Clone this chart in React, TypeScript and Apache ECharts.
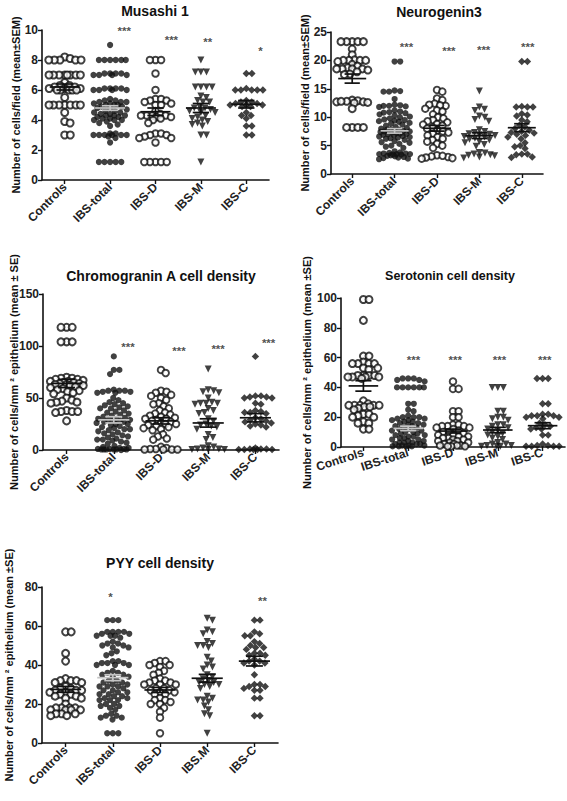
import React, { useEffect, useRef } from "react";
import * as echarts from "echarts";

const FONT = "'Liberation Sans', Arial, sans-serif";

const categories = ["Controls", "IBS-total", "IBS-D", "IBS-M", "IBS-C"];
const categoriesPYY = ["Controls", "IBS-total", "IBS-D", "IBS.M", "IBS-C"];

// ---------- Musashi 1 ----------
const musashiControls = [8.2, 8.1, 8, 8, 8, 8, 8, 7, 7, 7, 7, 7, 7, 7, 7, 6.5, 6.3, 6.3, 6.2, 6.2, 6.1, 6.1, 6.1, 6, 6, 6, 6, 6, 5.5, 5, 5, 5, 5, 5, 5, 5, 4.5, 3.9, 3.8, 3, 3];
const musashiTotal = [9, 8, 8, 8, 8, 8, 8, 7.1, 7.1, 7, 7, 7, 7, 7.1, 7.1, 6.1, 6.1, 6, 6, 6, 6, 6.1, 6.1, 5.4, 5.3, 5.3, 5.2, 5.2, 5.2, 5.1, 5.1, 5, 5, 5, 4.9, 4.9, 4.8, 4.8, 4.7, 4.6, 4.6, 4.5, 4.5, 4.4, 4.4, 4.3, 4.3, 4.3, 4.2, 4.2, 4.1, 4.1, 4, 4, 4, 3.9, 3.8, 3.7, 3.6, 3.1, 3.1, 3, 3, 3, 3, 3, 3, 2.9, 2.8, 2.5, 1.2, 1.2, 1.2, 1.2, 1.2];
const musashiD = [8, 8, 8, 7.1, 6, 5.4, 5.4, 5.3, 5.3, 5.2, 5.1, 5, 5, 4.6, 4.4, 4.3, 4.3, 4.3, 4.3, 4.2, 4.2, 4.1, 4, 3.8, 3.1, 3.1, 3, 3, 2.9, 2.8, 2.8, 2.5, 1.2, 1.2, 1.2, 1.2, 1.2];
const musashiM = [8, 7.2, 7.2, 7.2, 6.2, 6.2, 6.2, 6.2, 5.6, 5.5, 5.3, 5.2, 5.2, 4.9, 4.8, 4.8, 4.7, 4.6, 4.5, 4.5, 4.3, 4.2, 4.1, 4, 3.9, 3.8, 3.7, 3.6, 3, 3, 1.2];
const musashiC = [7.1, 7.1, 6, 6, 6, 6, 6, 6.1, 5.3, 5.2, 5.2, 5.1, 5.1, 5, 5, 4.9, 4.9, 5, 4.5, 4.3, 4.3, 4.1, 3.6, 3.6, 3, 3];
const musashiMeans = [6.2, 4.8, 4.55, 4.8, 5.05];
const musashiSems = [0.2, 0.15, 0.25, 0.3, 0.25];
const musashiStars = ["", "***", "***", "**", "*"];
const musashiStarY = [0, 9.9, 9.3, 9.2, 8.6];

// ---------- Neurogenin3 ----------
const neuroControls = [23.3, 23.3, 23.3, 23.3, 23.3, 22, 21, 20.1, 20, 20, 20, 20, 19.8, 19.3, 19, 18.7, 18.5, 18.5, 18.5, 18.5, 18.3, 18, 17.6, 17.5, 13, 12.9, 12.8, 12.7, 12.7, 12.6, 12.5, 12.8, 11.5, 8.2, 8.2, 8.2, 8.2];
const neuroTotal = [19.8, 19.8, 14.7, 14.6, 14.5, 14.5, 13.2, 12.2, 12.1, 12, 12, 11.9, 11.8, 11.2, 11, 10.9, 10.8, 10.7, 10.5, 10.3, 10.1, 10, 9.8, 9.6, 9.5, 9.4, 9.3, 9.2, 9, 8.9, 8.7, 8.5, 8.3, 8.1, 8, 7.9, 7.8, 7.8, 7.7, 7.6, 7.5, 7.5, 7.4, 7.3, 7.2, 7.1, 7, 7, 6.9, 6.8, 6.7, 6.6, 6.5, 6.4, 6.3, 6.2, 6, 5.8, 5.6, 5.5, 5.3, 5, 4.8, 4.6, 4, 3.8, 3.7, 3.6, 3.6, 3.5, 3.5, 3.5, 3.4, 3.4, 3.3, 3.2, 3.1, 3, 2.9, 2.8, 2.7, 2.6];
const neuroD = [14.8, 14.5, 13.3, 13, 12.4, 12.2, 12, 12.1, 11.5, 11.2, 11, 10.5, 10, 9.8, 9.5, 9.3, 9.1, 8.8, 8.7, 8.5, 8.2, 8, 7.7, 7.5, 7.3, 7.1, 6.8, 6.5, 6.2, 6, 5.7, 5.3, 5, 4.6, 3.3, 3.1, 3, 2.9, 2.8, 2.7, 3.2];
const neuroM = [14.6, 11.8, 11.4, 11.2, 10.2, 10, 9.6, 9.3, 7.8, 7.5, 7.3, 7.1, 7, 6.9, 6.8, 6.6, 6.5, 6.3, 6.1, 6, 5.7, 5.5, 5.2, 4.9, 3.8, 3.7, 3.5, 3.4, 3.3, 3.2, 3, 2.8];
const neuroC = [19.8, 19.8, 11.9, 11.8, 11.8, 11.8, 10.6, 10.4, 10.2, 9.5, 9.2, 8.6, 8.3, 8, 7.7, 7.5, 7.3, 7.2, 7, 6.8, 6.5, 6.2, 5.5, 5, 4.8, 4.5, 3.5, 3.5, 3.4, 3, 2.9];
const neuroMeans = [16.8, 7.6, 8.05, 6.75, 8.15];
const neuroSems = [0.8, 0.4, 0.5, 0.5, 0.7];
const neuroStars = ["", "***", "***", "***", "***"];
const neuroStarY = [0, 22.2, 21.6, 21.8, 22.2];

// ---------- Chromogranin A ----------
const cgaControls = [118, 118, 118, 104, 104, 104, 70, 69, 69, 68, 68, 67, 66, 66, 65, 65, 64, 64, 63, 63, 62, 62, 61, 60, 59, 58, 57, 56, 55, 54, 50, 48, 47, 46, 46, 45, 38, 37, 37, 37, 36, 28];
const cgaTotal = [90, 77, 77, 73, 58, 57, 57, 57, 56, 56, 55, 55, 50, 48, 46, 45, 44, 43, 42, 41, 40, 40, 38, 37, 36, 35, 34, 33, 32, 31, 30, 30, 29, 29, 28, 28, 27, 27, 26, 25, 25, 24, 23, 22, 21, 20, 20, 19, 18, 17, 16, 15, 14, 13, 12, 11, 10, 10, 9, 8, 7, 6, 4, 3, 2, 2, 1, 1, 1, 0.5, 0.5, 0.5, 0.5, 0.5, 0.5, 0];
const cgaD = [77, 74, 57, 56, 55, 53, 52, 50, 48, 45, 44, 42, 40, 38, 36, 35, 34, 33, 32, 31, 30, 30, 29, 28, 27, 26, 25, 25, 24, 23, 22, 21, 20, 19, 15, 13, 11, 10, 3, 2, 1, 1, 0.5, 0.5, 0.5, 0.5];
const cgaM = [78, 58, 57, 56, 55, 50, 46, 45, 45, 45, 44, 40, 38, 36, 35, 30, 28, 25, 24, 23, 22, 20, 15, 12, 10, 4, 3, 2, 1, 1, 0.5, 0.5, 0.5];
const cgaC = [90, 52, 52, 51, 50, 50, 51, 45, 44, 38, 37, 36, 36, 35, 31, 30, 29, 28, 27, 26, 25, 24, 23, 22, 2, 1, 1, 1, 0.5, 0.5, 0.5, 0.5, 0.5];
const cgaMeans = [64, 29, 28, 26, 31];
const cgaSems = [4, 3, 3, 4, 4];
const cgaStars = ["", "***", "***", "***", "***"];
const cgaStarY = [0, 99, 95, 97, 102];

// ---------- Serotonin ----------
const serControls = [99, 99, 85, 61, 61, 57, 56, 56, 56, 56, 53, 53, 52, 48, 48, 48, 48, 47, 47, 47, 47, 46, 31, 29, 28, 28, 28, 28, 28, 27, 27, 26, 25, 22, 22, 21, 20, 20, 17, 16, 16, 12, 12];
const serTotal = [46, 46, 46, 45, 45, 44, 40, 40, 40, 40, 40, 40, 29, 29, 25, 24, 21, 20, 20, 20, 19, 19, 18, 18, 17, 17, 16, 16, 15, 15, 14, 14, 13, 13, 12, 12, 11, 11, 10, 10, 9, 9, 8, 8, 7, 7, 6, 6, 5, 5, 4, 4, 3, 3, 3, 2, 2, 2, 1, 1, 1, 0.5, 0.5, 0.5, 0.5];
const serD = [44, 39, 39, 24, 24, 20, 20, 15, 15, 14, 14, 14, 13, 13, 12, 11, 10, 10, 9, 8, 8, 7, 7, 6, 6, 5, 5, 4, 4, 3, 3, 2, 2, 1, 1, 1, 0.5, 0.5, 0.5];
const serM = [40, 40, 40, 24, 24, 20, 20, 19, 18, 15, 15, 14, 13, 12, 11, 10, 9, 8, 7, 6, 5, 3, 2, 2, 1, 1, 0.5, 0.5, 0.5];
const serC = [46, 46, 46, 29, 29, 22, 22, 21, 21, 21, 20, 20, 19, 16, 15, 14, 13, 12, 12, 8, 8, 2, 1, 1, 0.5, 0.5, 0.5, 0.5];
const serMeans = [41, 12.5, 10.7, 11.4, 14.3];
const serSems = [3.5, 1.5, 1.3, 1.8, 2];
const serStars = ["", "***", "***", "***", "***"];
const serStarY = [0, 58, 58, 58, 58];

// ---------- PYY ----------
const pyyControls = [57, 57, 46, 42, 33, 32, 32, 32, 31, 31, 29, 28, 28, 27, 27, 27, 26, 26, 25, 25, 24, 24, 23, 23, 20, 18, 18, 18, 18, 17, 17, 17, 17, 15, 15, 15, 14, 14];
const pyyTotal = [63, 63, 63, 57, 57, 57, 57, 56, 56, 55, 55, 55, 54, 52, 51, 51, 50, 50, 49, 49, 47, 46, 45, 42, 42, 41, 41, 41, 40, 40, 40, 37, 36, 36, 35, 35, 34, 34, 32, 32, 31, 31, 30, 30, 29, 29, 29, 28, 27, 27, 26, 26, 25, 25, 24, 24, 23, 23, 22, 22, 22, 20, 20, 19, 19, 18, 17, 15, 14, 14, 13, 13, 12, 5, 5, 5];
const pyyD = [42, 42, 41, 40, 40, 39, 37, 36, 35, 33, 32, 32, 31, 31, 30, 30, 30, 28, 28, 27, 27, 26, 26, 25, 25, 23, 22, 22, 21, 20, 20, 18, 16, 13, 5];
const pyyM = [64, 63, 58, 57, 56, 52, 51, 50, 50, 49, 44, 42, 40, 39, 38, 35, 34, 33, 32, 31, 31, 30, 30, 29, 28, 24, 23, 22, 22, 21, 19, 17, 15, 14, 5];
const pyyC = [63, 63, 57, 56, 55, 55, 52, 51, 50, 49, 49, 48, 46, 46, 45, 45, 43, 42, 42, 41, 41, 40, 35, 30, 30, 29, 29, 28, 27, 27, 23, 23, 14, 14];
const pyyMeans = [27.5, 33.5, 27.2, 33.2, 42];
const pyySems = [1.5, 1.5, 1.3, 2, 2.5];
const pyyStars = ["", "*", "", "", "**"];
const pyyStarY = [0, 74.4, 0, 0, 72.5];

// ---------- layout ----------
const panels = [
  {
    title: "Musashi 1", titleSize: 14, titleX: 155, titleY: 11,
    yName: "Number of cells/field (mean\u00b1SEM)", yNameX: 16,
    grid: { left: 42, top: 30, width: 227, height: 150 },
    yMax: 10, yInterval: 2, cats: categories, rotate: 45,
    series: [musashiControls, musashiTotal, musashiD, musashiM, musashiC],
    means: musashiMeans, sems: musashiSems, stars: musashiStars, starY: musashiStarY,
    starDx: [0, 0.31, 0.35, 0.15, 0.31],
  },
  {
    title: "Neurogenin3", titleSize: 14, titleX: 439, titleY: 12,
    yName: "Number of cells/field (mean\u00b1SEM)", yNameX: 305,
    grid: { left: 331, top: 32, width: 212, height: 142 },
    yMax: 25, yInterval: 5, cats: categories, rotate: 45,
    series: [neuroControls, neuroTotal, neuroD, neuroM, neuroC],
    means: neuroMeans, sems: neuroSems, stars: neuroStars, starY: neuroStarY,
    starDx: [0, 0.28, 0.28, 0.1, 0.14],
  },
  {
    title: "Chromogranin A cell density", titleSize: 14, titleX: 161, titleY: 276,
    yName: "Number of cells/mm \u00b2 epithelium (mean \u00b1 SE)", yNameX: 14,
    grid: { left: 43, top: 294, width: 236, height: 156 },
    yMax: 150, yInterval: 50, cats: categories, rotate: 45,
    series: [cgaControls, cgaTotal, cgaD, cgaM, cgaC],
    means: cgaMeans, sems: cgaSems, stars: cgaStars, starY: cgaStarY,
    starDx: [0, 0.3, 0.38, 0.21, 0.28],
  },
  {
    title: "Serotonin cell density", titleSize: 12.5, titleX: 450, titleY: 276,
    yName: "Number of cells/mm \u00b2 epithelium (mean \u00b1SE)", yNameX: 307,
    grid: { left: 341, top: 298, width: 224, height: 149 },
    yMax: 100, yInterval: 20, cats: categories, rotate: 18,
    series: [serControls, serTotal, serD, serM, serC],
    means: serMeans, sems: serSems, stars: serStars, starY: serStarY,
    starDx: [0, 0.12, 0.05, 0.04, 0.05],
  },
  {
    title: "PYY cell density", titleSize: 14, titleX: 160, titleY: 563,
    yName: "Number of cells/mm \u00b2 epithelium (mean \u00b1SE)", yNameX: 9,
    grid: { left: 42, top: 587, width: 236, height: 156 },
    yMax: 80, yInterval: 20, cats: categoriesPYY, rotate: 45,
    series: [pyyControls, pyyTotal, pyyD, pyyM, pyyC],
    means: pyyMeans, sems: pyySems, stars: pyyStars, starY: pyyStarY,
    starDx: [0, -0.05, 0, 0, 0.17],
  },
];

const markerStyles = [
  { symbol: "circle", size: 7, rotate: 0, itemStyle: { color: "#fff", borderColor: "#111", borderWidth: 2 } },
  { symbol: "circle", size: 6.2, rotate: 0, itemStyle: { color: "#111" } },
  { symbol: "circle", size: 6.6, rotate: 0, itemStyle: { color: "#fff", borderColor: "#111", borderWidth: 1.9 } },
  { symbol: "triangle", size: 7, rotate: 180, itemStyle: { color: "#111" } },
  { symbol: "diamond", size: 7.4, rotate: 0, itemStyle: { color: "#111" } },
];

// deterministic beeswarm packing (pixel offsets), computed from the values
function swarm(values: number[], pxY: number, d: number, maxHalf: number): number[] {
  const order = values.map((_, i) => i).sort((a, b) => values[b] - values[a]);
  const placed: { x: number; y: number }[] = [];
  const out = new Array(values.length).fill(0);
  const factors = [1, 0.8, 0.62, 0.45, 0.3];
  for (const i of order) {
    const y = values[i] * pxY;
    let chosen: number | null = null;
    for (const f of factors) {
      const dd = d * f;
      const near = placed.filter((p) => Math.abs(p.y - y) < dd);
      const cands = [0];
      for (const p of near) {
        const dx = Math.sqrt(Math.max(0, dd * dd - (p.y - y) * (p.y - y)));
        cands.push(p.x + dx + 1e-4, p.x - dx - 1e-4);
      }
      cands.sort((a, b) => Math.abs(a) - Math.abs(b) || b - a);
      for (const c of cands) {
        if (Math.abs(c) > maxHalf) break;
        if (near.every((p) => (p.x - c) * (p.x - c) + (p.y - y) * (p.y - y) >= dd * dd - 1e-3)) {
          chosen = c;
          break;
        }
      }
      if (chosen !== null) break;
    }
    if (chosen === null) chosen = 0;
    placed.push({ x: chosen, y });
    out[i] = chosen;
  }
  return out;
}

function buildOption() {
  const grids: any[] = [];
  const xAxes: any[] = [];
  const yAxes: any[] = [];
  const series: any[] = [];
  const graphics: any[] = [];

  panels.forEach((p, k) => {
    grids.push({ ...p.grid, containLabel: false });
    const valAxis = 2 * k + 1;
    // visible category axis: labels and ticks
    xAxes.push({
      type: "category", gridIndex: k, data: p.cats, boundaryGap: true,
      splitLine: { show: false },
      axisLine: { show: true, onZero: false, lineStyle: { color: "#111", width: 1.6 } },
      axisTick: { show: true, alignWithLabel: true, length: 4, lineStyle: { color: "#111", width: 1.4 } },
      axisLabel: {
        show: true, interval: 0, rotate: p.rotate, margin: 5,
        fontFamily: FONT, fontWeight: "bold", fontSize: 12, color: "#222",
      },
    });
    // hidden value axis over the same span, used to place the jittered points
    xAxes.push({
      type: "value", gridIndex: k, min: 0, max: 5, show: false,
      splitLine: { show: false },
    });
    yAxes.push({
      type: "value", gridIndex: k, min: 0, max: p.yMax, interval: p.yInterval,
      splitLine: { show: false },
      axisLine: { show: true, lineStyle: { color: "#111", width: 1.6 } },
      axisTick: { show: true, length: 4, lineStyle: { color: "#111", width: 1.4 } },
      axisLabel: { fontFamily: FONT, fontWeight: "bold", fontSize: 12, color: "#222", margin: 4 },
    });

    const pxY = p.grid.height / p.yMax;
    const pxX = p.grid.width / 5;
    p.series.forEach((vals, ci) => {
      const offs = swarm(vals, pxY, 5.6, pxX * 0.37);
      const ms = markerStyles[ci];
      series.push({
        type: "scatter", xAxisIndex: valAxis, yAxisIndex: k,
        symbol: ms.symbol, symbolSize: ms.size, symbolRotate: ms.rotate,
        itemStyle: ms.itemStyle, z: 2, silent: true,
        data: vals.map((v, j) => [ci + 0.5 + offs[j] / pxX, v]),
      });
    });

    series.push({
      type: "custom", xAxisIndex: valAxis, yAxisIndex: k, z: 5, silent: true,
      data: p.means.map((m, i) => [i + 0.5, m, p.sems[i]]),
      renderItem: (params: any, api: any) => {
        const x = api.value(0);
        const m = api.value(1);
        const s = api.value(2);
        const c = api.coord([x, m]);
        const top = api.coord([x, m + s]);
        const bot = api.coord([x, m - s]);
        const unit = api.size([1, 0])[0];
        const half = unit * 0.33;
        const cap = unit * 0.18;
        const color = params.dataIndex === 1 ? "#c4c4c4" : "#111";
        const st = { stroke: color, lineWidth: 1.7 };
        return {
          type: "group",
          children: [
            { type: "line", shape: { x1: c[0] - half, y1: c[1], x2: c[0] + half, y2: c[1] }, style: st },
            { type: "line", shape: { x1: c[0], y1: top[1], x2: c[0], y2: bot[1] }, style: st },
            { type: "line", shape: { x1: c[0] - cap, y1: top[1], x2: c[0] + cap, y2: top[1] }, style: st },
            { type: "line", shape: { x1: c[0] - cap, y1: bot[1], x2: c[0] + cap, y2: bot[1] }, style: st },
          ],
        };
      },
    });

    const starData = p.stars
      .map((s, i) => (s ? { name: s, value: [i + 0.5 + p.starDx[i], p.starY[i]] } : null))
      .filter(Boolean);
    series.push({
      type: "scatter", xAxisIndex: valAxis, yAxisIndex: k, z: 6, silent: true,
      symbolSize: 1, itemStyle: { color: "rgba(255,255,255,0)" },
      label: {
        show: true, position: "top", distance: -6, formatter: "{b}",
        fontFamily: FONT, fontWeight: "bold", fontSize: 11.5, color: "#222",
        textBorderWidth: 0,
      },
      data: starData,
    });

    graphics.push({
      type: "text", x: p.titleX, y: p.titleY,
      style: {
        text: p.title, fontFamily: FONT, fontWeight: "bold", fontSize: p.titleSize,
        fill: "#111", textAlign: "center", textVerticalAlign: "middle",
      },
    });
    graphics.push({
      type: "text", x: p.yNameX, y: p.grid.top + p.grid.height / 2, rotation: Math.PI / 2,
      style: {
        text: p.yName, fontFamily: FONT, fontWeight: "bold", fontSize: 11,
        fill: "#111", textAlign: "center", textVerticalAlign: "middle",
      },
    });
  });

  return {
    animation: false,
    backgroundColor: "#fff",
    grid: grids,
    xAxis: xAxes,
    yAxis: yAxes,
    series,
    graphic: graphics,
  };
}

export default function App() {
  const ref = useRef<HTMLDivElement>(null);
  useEffect(() => {
    if (!ref.current) return;
    const chart = echarts.init(ref.current, undefined, { renderer: "svg" });
    chart.setOption(buildOption() as any);
    return () => chart.dispose();
  }, []);
  return (
    <div
      ref={ref}
      style={{ position: "fixed", left: 0, top: 0, width: 567, height: 801, background: "#fff" }}
    />
  );
}
